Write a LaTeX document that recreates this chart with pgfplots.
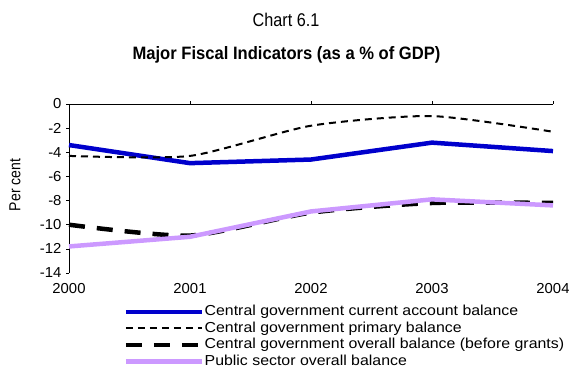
\documentclass[border=0pt]{standalone}
\usepackage{fontspec}
\setmainfont{Liberation Sans}
\newfontfamily\wide{Liberation Sans}[FakeStretch=1.1]
\newfontfamily\tickf{Liberation Sans}[FakeStretch=1.03]
\newfontfamily\narrow{Liberation Sans}[FakeStretch=0.88]
\newfontfamily\narrowb{Liberation Sans}[FakeStretch=0.925]
\usepackage{pgfplots}
\pgfplotsset{compat=1.18}
\definecolor{cgblue}{HTML}{0000CC}
\definecolor{lilac}{HTML}{CC99FF}
\pgfplotstableread{
year cur prim overall pub
2000 -3.4 -4.3 -10.0 -11.8
2001 -4.9 -4.3 -10.9 -11.0
2002 -4.6 -1.8 -9.0 -8.9
2003 -3.2 -1.0 -8.2 -7.9
2004 -3.9 -2.3 -8.2 -8.4
}\datatable
\begin{document}
\begin{tikzpicture}
\useasboundingbox (0bp,0bp) rectangle (569bp,369bp);
\node[font=\narrow\fontsize{18.5}{20}\selectfont, anchor=base, inner sep=0pt] at (286bp,342.3bp) {Chart 6.1};
\node[font=\narrowb\bfseries\fontsize{18}{20}\selectfont, anchor=base, inner sep=0pt] at (286.5bp,309bp) {Major Fiscal Indicators (as a \% of GDP)};
\node[font=\narrow\fontsize{16}{18}\selectfont, rotate=90] at (15bp,184bp) {Per cent};
\begin{axis}[
  at={(69bp,96bp)}, anchor=south west,
  scale only axis, width=484bp, height=169bp,
  xmin=2000, xmax=2004, ymin=-14, ymax=0,
  axis y line=left, axis x line=bottom,
  axis line style={-, black, line width=0.6bp},
  x axis line style={draw=none},
  xtick={2000,2001,2002,2003,2004},
  ytick={-14,-12,-10,-8,-6,-4,-2,0},
  xtick style={draw=none},
  ytick style={black, line width=0.6bp},
  tick align=outside, major tick length=3bp,
  /pgf/number format/assume math mode=true,
  /pgf/number format/1000 sep={},
  ticklabel style={font=\tickf\fontsize{14.5}{16}\selectfont},
  yticklabel style={xshift=-1bp},
  xticklabel style={yshift=-4bp},
  legend style={draw=none, fill=none, at={(0.1125,-0.18)}, anchor=north west,
    inner sep=0pt, font=\wide\fontsize{14.5}{16}\selectfont,
    nodes={inner xsep=0.5bp, inner ysep=1.5bp, text height=10.5bp, text depth=3bp}},
  legend cell align=left,
  legend image code/.code={\draw[#1] (0bp,0bp) -- (76bp,0bp);},
  clip=false,
]
\draw[black, line width=0.6bp] (axis cs:2000,0) -- (axis cs:2004,0);
\pgfplotsinvokeforeach{2001,2002,2003,2004}{
  \draw[black, line width=0.6bp] (axis cs:#1,0) -- ++(0bp,3bp);
}
\addplot[cgblue, line width=4.5bp, line join=round] table[x=year,y=cur]{\datatable};
\addlegendentry{Central government current account balance}
\addplot[black, line width=2bp, dash pattern=on 7bp off 5bp, smooth, tension=0.4] table[x=year,y=prim]{\datatable};
\addlegendentry{Central government primary balance}
\addplot[black, line width=4.5bp, dash pattern=on 16bp off 12bp, smooth, tension=0.4] table[x=year,y=overall]{\datatable};
\addlegendentry{Central government overall balance (before grants)}
\addplot[lilac, line width=4.5bp, line join=round] table[x=year,y=pub]{\datatable};
\addlegendentry{Public sector overall balance}
\end{axis}
\end{tikzpicture}
\end{document}
